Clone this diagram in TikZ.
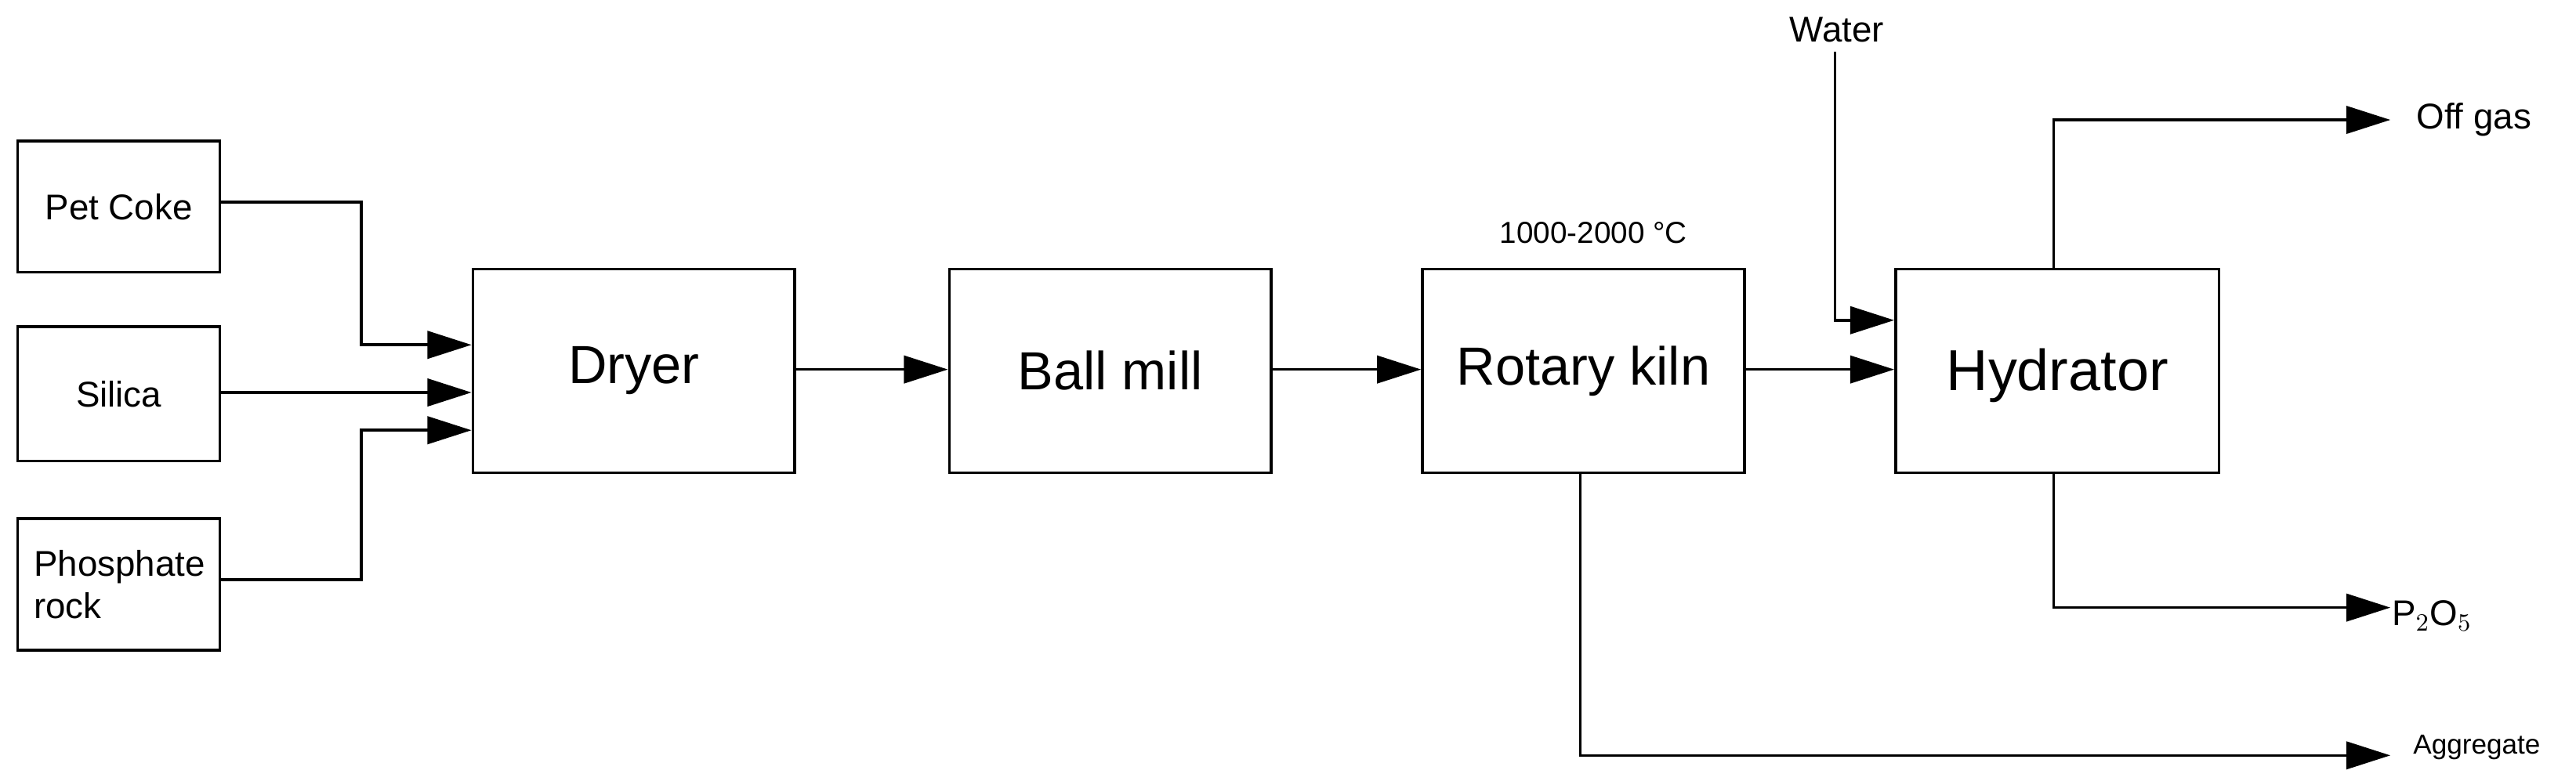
\documentclass[tikz,border=0pt]{standalone}
\usepackage{fontspec}
\setmainfont{Liberation Sans}
\usetikzlibrary{arrows.meta}
\begin{document}
\begin{tikzpicture}[x=0.02096cm,y=-0.02096cm,
  box/.style={draw,line width=1pt,anchor=north west,inner sep=0},
  con/.style={line width=1pt,-{Triangle[length=16pt,width=10pt]}},
  lab/.style={font=\fontsize{13}{15.5}\selectfont},
  big/.style={font=\fontsize{19.5}{22}\selectfont}]
\useasboundingbox (0,0) rectangle (1568,475.2);
\node[box,minimum width=2.578cm,minimum height=1.677cm] (pc) at (10,85) {};
\node[lab] at (pc.center) {Pet Coke};
\node[box,minimum width=2.578cm,minimum height=1.719cm] (si) at (10,198) {};
\node[lab] at (si.center) {Silica};
\node[box,minimum width=2.578cm,minimum height=1.677cm] (ph) at (10,315) {};
\node[lab,align=left,anchor=west] at ([xshift=0.1cm]ph.west) {Phosphate\\rock};
\node[box,minimum width=4.108cm,minimum height=2.599cm] (dr) at (287,163) {};
\node[big] at (dr.center) {Dryer};
\node[box,minimum width=4.108cm,minimum height=2.599cm] (bm) at (577,163) {};
\node[big] at (bm.center) {Ball mill};
\node[box,minimum width=4.108cm,minimum height=2.599cm] (rk) at (865,163) {};
\node[big] at (rk.center) {Rotary kiln};
\node[box,minimum width=4.129cm,minimum height=2.599cm] (hy) at (1153,163) {};
\node[font=\fontsize{21}{24}\selectfont] at ([yshift=-0.06cm]hy.center) {Hydrator};
\node[font=\fontsize{11}{13}\selectfont] (tl) at (970,142) {1000-2000 °C};
\node[lab] (wa) at (1118,18) {Water};
\coordinate (og) at (1455,73);
\coordinate (p2) at (1455,370);
\coordinate (ag) at (1455,460);
\node[lab,anchor=west] at (1465,73) {Off gas};
\node[lab,anchor=west] at (1450,375) {P$_2$O$_5$};
\node[anchor=west,font=\fontsize{10}{12}\selectfont] at (1463,455) {Aggregate};
\draw[con] (pc.east |- 0,123) -- (220,123) -- (220,210) -- (dr.west |- 0,210);
\draw[con] (si.east |- 0,239) -- (dr.west |- 0,239);
\draw[con] (ph.east |- 0,353) -- (220,353) -- (220,262) -- (dr.west |- 0,262);
\draw[con] (dr.east |- 0,225) -- (bm.west |- 0,225);
\draw[con] (bm.east |- 0,225) -- (rk.west |- 0,225);
\draw[con] (rk.east |- 0,225) -- (hy.west |- 0,225);
\draw[con] (wa.south -| 1117,0) -- (1117,195) -- (hy.west |- 0,195);
\draw[con] (1250,163) -- (1250,73) -- (og);
\draw[con] (1250,287) -- (1250,370) -- (p2);
\draw[con] (962,287) -- (962,460) -- (ag);
\end{tikzpicture}
\end{document}
